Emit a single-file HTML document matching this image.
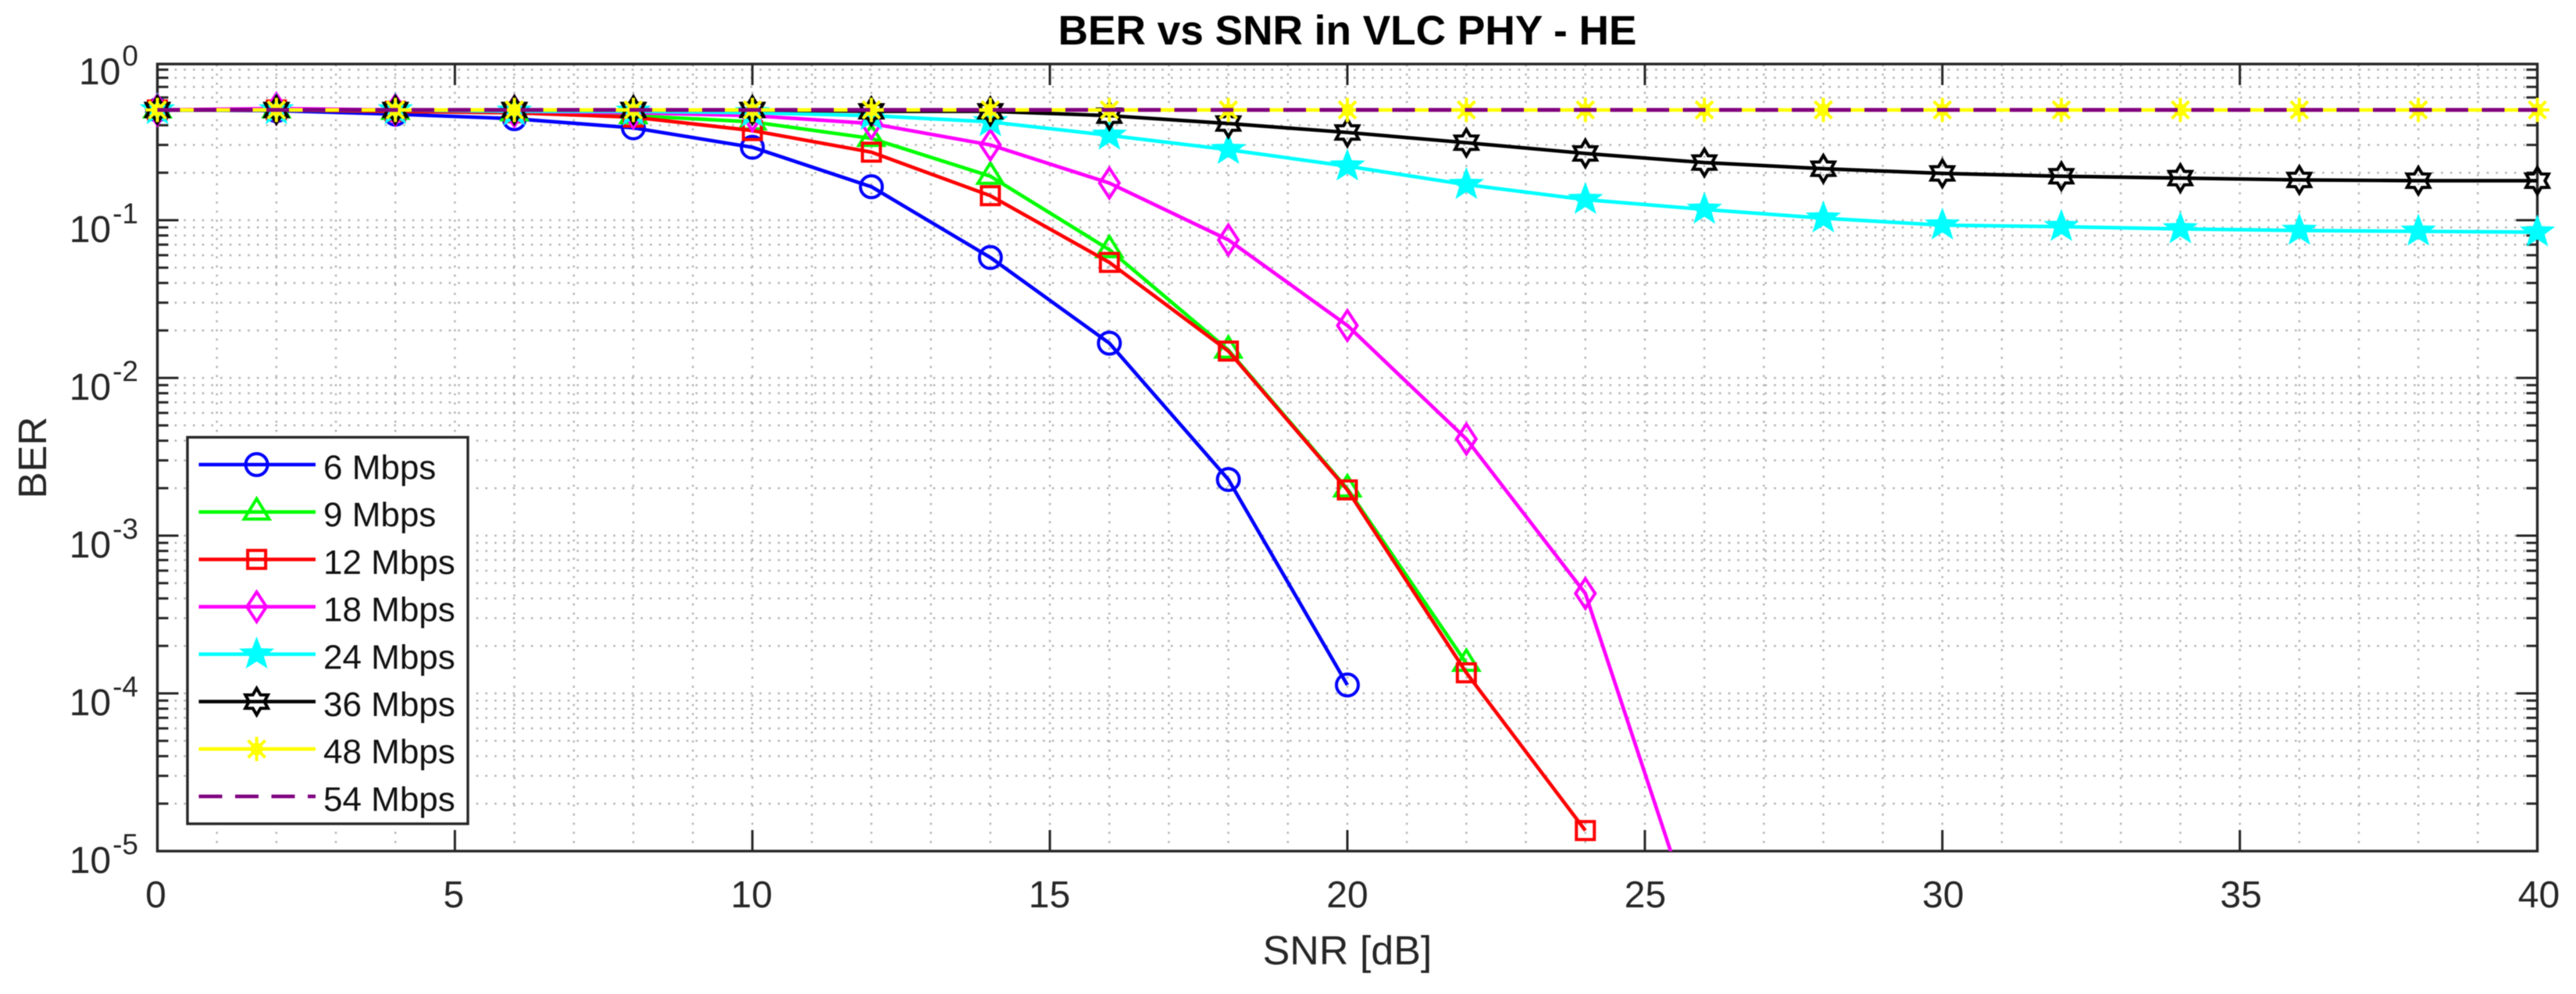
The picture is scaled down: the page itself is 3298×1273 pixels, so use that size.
<!DOCTYPE html>
<html lang="en">
<head>
<meta charset="utf-8">
<title>BER vs SNR in VLC PHY - HE</title>
<style>
  html, body { margin: 0; padding: 0; background: #fff; }
  svg { display: block; filter: blur(0.6px); }
  text { font-family: "Liberation Sans", Arial, sans-serif; }
</style>
</head>
<body>
<svg id="chart" xmlns="http://www.w3.org/2000/svg" width="3298" height="1273" viewBox="0 0 3298 1273">
  <defs>
    <clipPath id="plot-clip"><rect x="201.5" y="82" width="3047" height="1008"></rect></clipPath>
  </defs>
  <rect x="0" y="0" width="3298" height="1273" fill="#fff"></rect>
  <g id="grid"></g>
  <g id="axes"></g>
  <g id="series"></g>
  <g id="legend"></g>
  <text x="1725" y="57" text-anchor="middle" font-size="53.2" font-weight="700" fill="#000">BER vs SNR in VLC PHY - HE</text>
  <text x="1725" y="1235" text-anchor="middle" font-size="52" fill="#262626">SNR [dB]</text>
  <text transform="translate(59,586) rotate(-90)" text-anchor="middle" font-size="51" fill="#262626">BER</text>
</svg>
<script>
// ---- Chart data ----
const snr = [0, 2, 4, 6, 8, 10, 12, 14, 16, 18, 20, 22, 24, 26, 28, 30, 32, 34, 36, 38, 40];
const xTicks = [0, 5, 10, 15, 20, 25, 30, 35, 40];
const yExponents = [0, -1, -2, -3, -4, -5];
const seriesLabels = ['6 Mbps', '9 Mbps', '12 Mbps', '18 Mbps', '24 Mbps', '36 Mbps', '48 Mbps', '54 Mbps'];
const seriesColors = ['#0000ff', '#00ff00', '#ff0000', '#ff00ff', '#00ffff', '#000000', '#ffff00', '#800080'];
const seriesMarkers = ['circle', 'triangle', 'square', 'diamond', 'star', 'hexagram', 'asterisk', 'none'];
const ber6 = [0.5, 0.495, 0.47, 0.44, 0.385, 0.29, 0.163, 0.058, 0.0166, 0.00227, 0.000113];
const ber9 = [0.5, 0.5, 0.49, 0.48, 0.46, 0.42, 0.33, 0.19, 0.065, 0.015, 0.00198, 0.000155];
const ber12 = [0.5, 0.5, 0.49, 0.48, 0.45, 0.37, 0.27, 0.143, 0.054, 0.0148, 0.00195, 0.000135, 0.0000135];
const ber18 = [0.5, 0.51, 0.5, 0.49, 0.48, 0.46, 0.41, 0.3, 0.172, 0.075, 0.0215, 0.0041, 0.00043, 0.00000226];
const ber24 = [0.5, 0.5, 0.5, 0.49, 0.49, 0.48, 0.46, 0.42, 0.345, 0.28, 0.22, 0.168, 0.135, 0.117, 0.103, 0.093, 0.091, 0.088, 0.086, 0.085, 0.084];
const ber36 = [0.5, 0.5, 0.5, 0.5, 0.5, 0.5, 0.49, 0.49, 0.46, 0.41, 0.36, 0.31, 0.265, 0.232, 0.212, 0.198, 0.19, 0.185, 0.18, 0.178, 0.178];
const ber48 = [0.5, 0.5, 0.5, 0.5, 0.5, 0.5, 0.5, 0.5, 0.5, 0.5, 0.5, 0.5, 0.5, 0.5, 0.5, 0.5, 0.5, 0.5, 0.5, 0.5, 0.5];
const ber54 = [0.5, 0.5, 0.5, 0.5, 0.5, 0.5, 0.5, 0.5, 0.5, 0.5, 0.5, 0.5, 0.5, 0.5, 0.5, 0.5, 0.5, 0.5, 0.5, 0.5, 0.5];
const seriesValues = [ber6, ber9, ber12, ber18, ber24, ber36, ber48, ber54];

// ---- Axis functions ----
const NS = 'http://www.w3.org/2000/svg';
const plotLeft = 201.5, plotRight = 3248.5, plotTop = 82, plotBottom = 1090;
const xMin = 0, xMax = 40;
const decadePx = 202;
const inkColor = '#262626';
function xScale(v) { return plotLeft + (v - xMin) / (xMax - xMin) * (plotRight - plotLeft); }
function yScale(v) { return plotBottom - (Math.log10(v) + 5) * decadePx; }

function make(tag, attrs, parent) {
  const el = document.createElementNS(NS, tag);
  for (const k in attrs) el.setAttribute(k, attrs[k]);
  parent.appendChild(el);
  return el;
}

// ---- Grid ----
const gridG = document.getElementById('grid');
function gridLine(x1, y1, x2, y2) {
  const l = make('line', { x1: x1, y1: y1, x2: x2, y2: y2, stroke: '#b4b4b4', 'stroke-width': 2.5, 'stroke-dasharray': '2.6 9.1', 'stroke-dashoffset': 1.3 }, gridG);
  
  
}
for (let x = xMin + 1; x < xMax; x++) {
  gridLine(xScale(x), plotBottom, xScale(x), plotTop);
}
for (const e of yExponents) {
  for (let m = 1; m <= 9; m++) {
    const y = yScale(m * Math.pow(10, e));
    if (y <= plotTop + 1 || y >= plotBottom - 1) continue;
    gridLine(plotLeft, y, plotRight, y);
  }
}

// ---- Axes, ticks, tick labels ----
const axesG = document.getElementById('axes');
const frame = make('rect', { x: plotLeft, y: plotTop, width: plotRight - plotLeft, height: plotBottom - plotTop, fill: 'none', stroke: inkColor, 'stroke-width': 3.4 }, axesG);



function tickLine(x1, y1, x2, y2, name) {
  const t = make('line', { x1: x1, y1: y1, x2: x2, y2: y2, stroke: inkColor, 'stroke-width': 3 }, axesG);
  
  
}

for (const v of xTicks) {
  const x = xScale(v);
  if (v !== xMin && v !== xMax) {
    tickLine(x, plotBottom, x, plotBottom - 27, 'x-tick');
    tickLine(x, plotTop, x, plotTop + 27, 'x-tick-top');
  }
  const lab = make('text', { x: x - 2 + v * 0.1, y: 1162, 'text-anchor': 'middle', 'font-size': 48, fill: inkColor }, axesG);
  lab.textContent = String(v);
  
  
}

for (const e of yExponents) {
  const yMajor = yScale(Math.pow(10, e));
  const lab = make('text', { x: 177, y: yMajor + 28, 'text-anchor': 'end', 'font-size': 48, fill: inkColor }, axesG);
  
  
  const base = make('tspan', {}, lab);
  base.textContent = '10';
  const sup = make('tspan', { dy: -24, 'font-size': 37, dx: 2 }, lab);
  sup.textContent = String(e);
  if (e > -5 && e < 0) {
    tickLine(plotLeft, yMajor, plotLeft + 27, yMajor, 'y-tick');
    tickLine(plotRight, yMajor, plotRight - 27, yMajor, 'y-tick-right');
  }
  for (let m = 2; m <= 9; m++) {
    const y = yScale(m * Math.pow(10, e));
    if (y <= plotTop + 1 || y >= plotBottom - 1) continue;
    tickLine(plotLeft, y, plotLeft + 14, y, 'y-minor-tick');
    tickLine(plotRight, y, plotRight - 14, y, 'y-minor-tick-right');
  }
}

// ---- Marker glyphs ----
function starPoints(cx, cy, n, rOuter, rInner, sx) {
  const pts = [];
  for (let i = 0; i < n * 2; i++) {
    const r = i % 2 === 0 ? rOuter : rInner;
    const a = -Math.PI / 2 + i * Math.PI / n;
    pts.push((cx + sx * r * Math.cos(a)).toFixed(2) + ',' + (cy + r * Math.sin(a)).toFixed(2));
  }
  return pts.join(' ');
}

function drawMarker(kind, cx, cy, color, parent) {
  const base = { fill: 'none', stroke: color, 'stroke-width': 4, 'stroke-linejoin': 'miter' };
  let m = null;
  if (kind === 'circle') {
    m = make('circle', Object.assign({ cx: cx, cy: cy, r: 14 }, base), parent);
  } else if (kind === 'triangle') {
    m = make('polygon', Object.assign({ points: [cx, cy - 17, cx + 16, cy + 9, cx - 16, cy + 9].join(' ') }, base), parent);
    m.setAttribute('stroke-miterlimit', '4');
  } else if (kind === 'square') {
    m = make('rect', Object.assign({ x: cx - 11.5, y: cy - 11.5, width: 23, height: 23 }, base), parent);
  } else if (kind === 'diamond') {
    m = make('polygon', Object.assign({ points: [cx, cy - 19, cx + 12.5, cy, cx, cy + 19, cx - 12.5, cy].join(' ') }, base), parent);
  } else if (kind === 'star') {
    m = make('polygon', Object.assign({ points: starPoints(cx, cy, 5, 17, 7, 1.05) }, base), parent);
    m.setAttribute('fill', color);
  } else if (kind === 'hexagram') {
    m = make('polygon', Object.assign({ points: starPoints(cx, cy, 6, 17, 10, 0.98) }, base), parent);
  } else if (kind === 'asterisk') {
    m = make('g', {}, parent);
    const hub = make('circle', { cx: cx, cy: cy, r: 8, fill: color }, m);
    
    
    for (let i = 0; i < 4; i++) {
      const a = i * Math.PI / 4;
      const dx = 15.5 * Math.cos(a), dy = 15.5 * Math.sin(a);
      const ray = make('line', { x1: cx - dx, y1: cy - dy, x2: cx + dx, y2: cy + dy, stroke: color, 'stroke-width': 4 }, m);
      
      
    }
  }
  return m;
}

// ---- Series ----
const seriesG = document.getElementById('series');
seriesValues.forEach(function (vals, s) {
  const g = make('g', {}, seriesG);
  
  
  const pts = vals.map(function (v, i) { return xScale(snr[i]).toFixed(2) + ',' + yScale(v).toFixed(2); }).join(' ');
  const line = make('polyline', { points: pts, fill: 'none', stroke: seriesColors[s], 'stroke-width': 4.6, 'clip-path': 'url(#plot-clip)', 'stroke-linejoin': 'round' }, g);
  if (seriesMarkers[s] === 'none') {
    line.setAttribute('stroke-dasharray', '29 17.5');
    line.setAttribute('stroke-width', '5');
  }
  
  
  vals.forEach(function (v, i) {
    const py = yScale(v);
    if (py > plotBottom) return;
    const mk = drawMarker(seriesMarkers[s], xScale(snr[i]), py, seriesColors[s], g);
    if (mk) {
      
      
    }
  });
});

// ---- Legend ----
const legendG = document.getElementById('legend');
const legendBox = make('rect', { x: 240, y: 560, width: 359, height: 495, fill: '#fff', stroke: inkColor, 'stroke-width': 3.4 }, legendG);


seriesLabels.forEach(function (label, s) {
  const rowY = 595 + s * 60.7;
  const row = make('g', {}, legendG);
  
  
  const sample = make('line', { x1: 254.5, y1: rowY, x2: 404, y2: rowY, stroke: seriesColors[s], 'stroke-width': 4.6 }, row);
  if (seriesMarkers[s] === 'none') sample.setAttribute('stroke-dasharray', '30 16.5');
  
  
  const mk = drawMarker(seriesMarkers[s], 328.6, rowY, seriesColors[s], row);
  if (mk) {
    
    
  }
  const txt = make('text', { x: 414, y: rowY + 18.5, 'font-size': 44, fill: '#111' }, row);
  txt.textContent = label;
  
  
});
</script>
</body>
</html>
